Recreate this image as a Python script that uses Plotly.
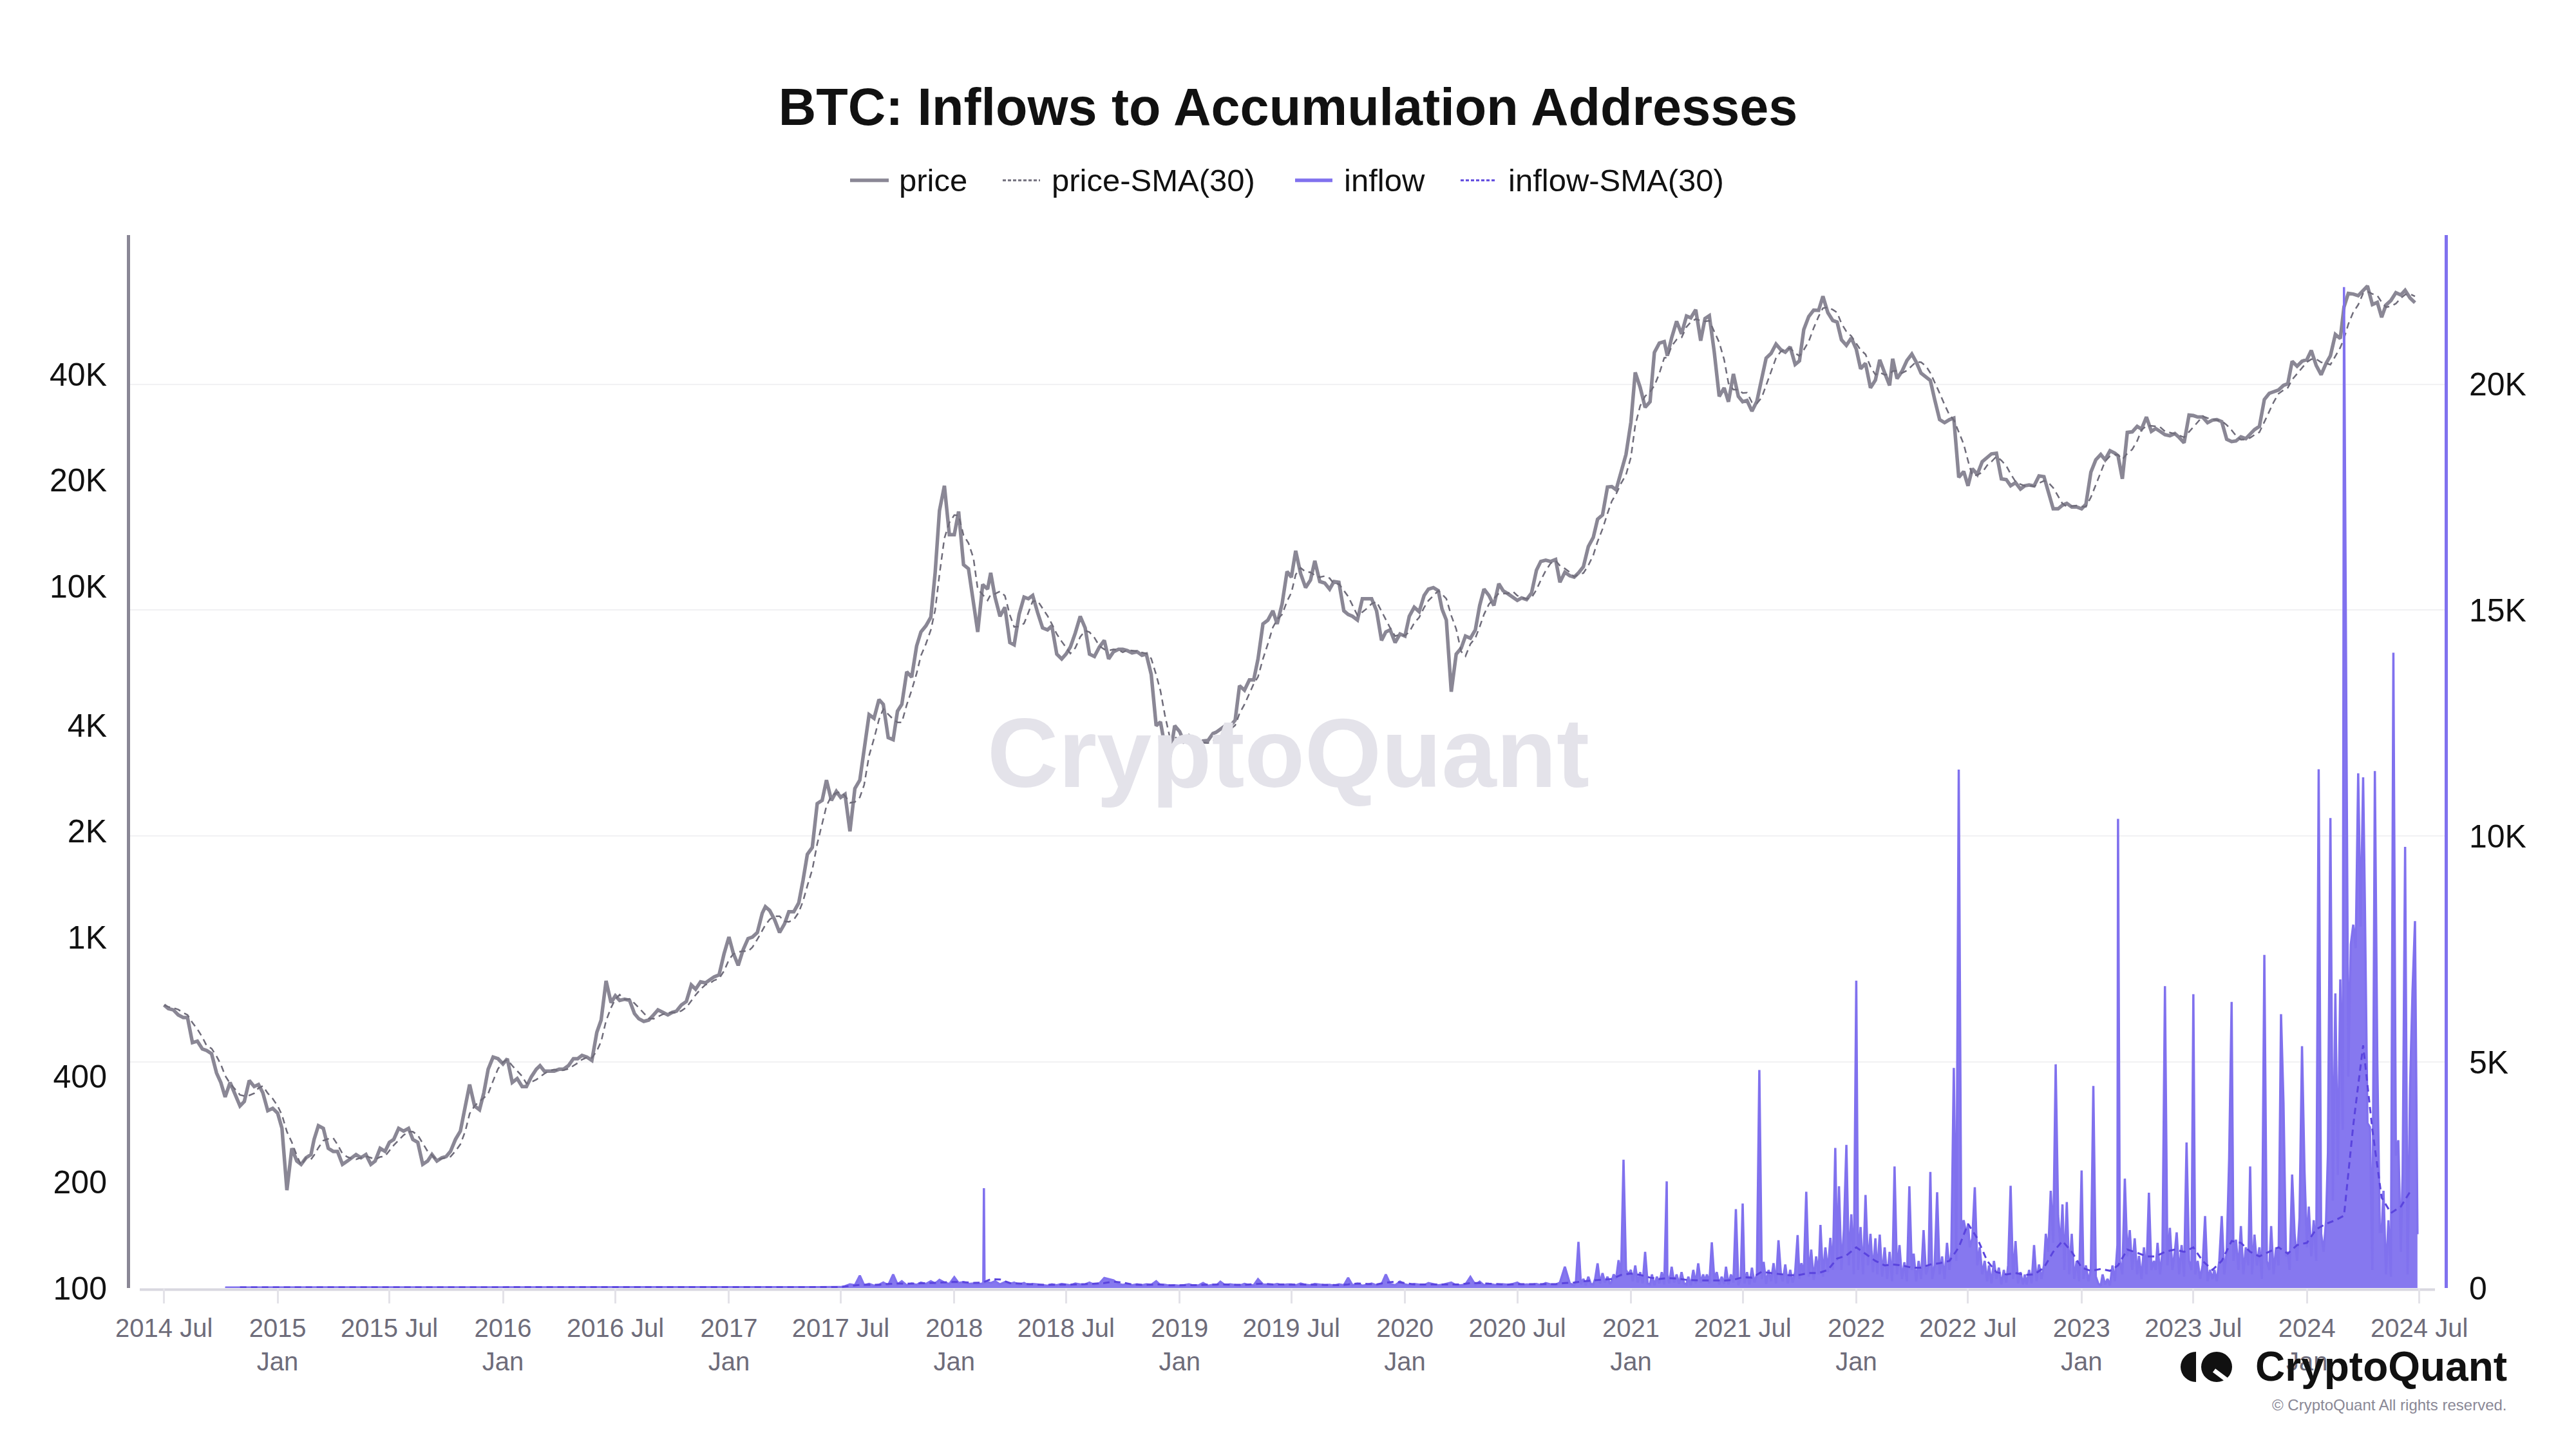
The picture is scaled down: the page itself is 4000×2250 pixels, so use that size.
import pandas as pd
import plotly.graph_objects as go

# ---------------- DATA ----------------
# BTC price, sampled on days 1, 8, 16, 24 of each month (Jul 2014 .. Jun 2024)
price_2014 = [640, 625, 620, 600,  590, 590, 500, 505,  480, 475, 465, 410,
              385, 350, 385, 355,  330, 340, 390, 375,  380, 360, 320, 325]
price_2015 = [315, 285, 190, 250,  230, 225, 235, 240,  265, 290, 285, 250,
              245, 245, 225, 230,  235, 240, 235, 240,  225, 230, 250, 245,
              260, 265, 285, 280,  285, 265, 260, 225,  230, 240, 230, 235,
              237, 245, 265, 280,  330, 380, 330, 322,  360, 420, 455, 450]
price_2016 = [435, 450, 385, 395,  375, 375, 400, 420,  430, 415, 415, 415,
              420, 420, 430, 450,  450, 460, 455, 445,  535, 580, 750, 650,
              680, 660, 665, 660,  605, 585, 575, 580,  600, 620, 610, 600,
              610, 615, 640, 655,  730, 710, 745, 740,  755, 770, 780, 895]
price_2017 = [1000, 900, 830, 920,  990, 1000, 1030, 1170,  1220, 1190, 1120, 1030,
              1090, 1180, 1180, 1250,  1450, 1720, 1800, 2400,  2450, 2800, 2450, 2600,
              2500, 2550, 2000, 2650,  2800, 3400, 4300, 4200,  4750, 4600, 3700, 3650,
              4400, 4600, 5700, 5500,  6750, 7400, 7700, 8150,  10900, 16400, 19300, 14000]
price_2018 = [14000, 16300, 11500, 11200,  9100, 7400, 10100, 9800,  10900, 9300, 8200, 8700,
              6900, 6800, 8300, 9300,  9200, 9400, 8400, 7600,  7500, 7700, 6400, 6200,
              6400, 6700, 7350, 8200,  7600, 6400, 6300, 6700,  7000, 6200, 6500, 6600,
              6600, 6550, 6450, 6500,  6350, 6400, 5600, 4000,  4100, 3500, 3250, 4000]
price_2019 = [3850, 3600, 3650, 3580,  3450, 3620, 3630, 3800,  3830, 3900, 4000, 3990,
              4150, 5200, 5050, 5400,  5400, 6200, 7800, 8000,  8500, 7800, 8900, 11000,
              10600, 12600, 10850, 9900,  10400, 11800, 10300, 10200,  9800, 10300, 10250, 8500,
              8300, 8200, 8000, 9200,  9200, 9200, 8500, 7000,  7400, 7500, 6900, 7300]
price_2020 = [7200, 8200, 8700, 8450,  9400, 9800, 9900, 9700,  8600, 8000, 5000, 6400,
              6650, 7200, 7100, 7500,  8800, 9800, 9400, 8800,  10150, 9700, 9500, 9250,
              9100, 9250, 9150, 9550,  11100, 11750, 11850, 11750,  11900, 10250, 10950, 10700,
              10600, 10900, 11350, 12950,  13750, 15500, 15950, 19150,  19200, 18800, 21300, 23700]
price_2021 = [29300, 40600, 36800, 32300,  33500, 46300, 49200, 49700,  45300, 51000, 56800, 52300,
              58800, 58100, 61300, 50000,  57800, 58900, 46400, 34700,  36700, 33500, 40200, 34700,
              33500, 33800, 31500, 33600,  39100, 44600, 46000, 48900,  47100, 46400, 48000, 42800,
              43800, 53800, 58600, 61100,  61000, 66900, 60100, 57100,  56500, 50300, 48500, 50900]
price_2022 = [47300, 41600, 43100, 36700,  38600, 44100, 40500, 37300,  44400, 39000, 40900, 43900,
              45800, 43500, 40400, 39500,  38500, 34000, 29800, 29200,  29800, 30100, 20400, 21200,
              19300, 21600, 20800, 22600,  23300, 23800, 23900, 20200,  20100, 19300, 19700, 18900,
              19300, 19400, 19300, 20600,  20500, 18500, 16600, 16600,  17000, 17200, 16800, 16800]
price_2023 = [16600, 17100, 21100, 22900,  23700, 22900, 24300, 23900,  23500, 20200, 27400, 27500,
              28500, 28000, 30300, 27600,  28100, 27600, 27000, 26800,  27200, 26500, 25600, 30700,
              30600, 30300, 30300, 29200,  29700, 29800, 29400, 26200,  25800, 25900, 26600, 26300,
              27000, 27900, 28500, 34000,  35400, 35700, 36200, 37300,  37700, 43700, 42300, 43700]
price_2024 = [44200, 46900, 42500, 40000,  43100, 45300, 52100, 50700,  62400, 68200, 67900, 67200,
              69600, 71600, 63400, 64300,  58300, 63200, 65100, 68500,  67500, 69600, 66200, 64200]

# Inflow to accumulation addresses (BTC)
# monthly (day 8) Oct 2014 .. Jun 2017
inflow_2014_2017 = [12, 14, 13, 15, 14, 16, 13, 15, 14, 12, 15, 16, 14, 13, 15,
                    16, 14, 15, 13, 16, 15, 14, 16, 15, 17, 15, 16, 18, 17, 19,
                    18, 20, 22]
# days 1, 8, 16, 24: Jul 2017 .. Sep 2020
inflow_2017 = [20, 40, 80, 60,  275, 60, 90, 50,  70, 120, 60, 300,
               80, 150, 60, 100,  70, 120, 90, 150,  100, 180, 120, 90]
inflow_2018 = [240, 110, 130, 90,  100, 80, 100, 130,  110, 150, 80, 130,
               90, 120, 70, 110,  60, 90, 80, 70,  50, 80, 60, 90,
               70, 60, 100, 80,  80, 120, 70, 100,  220, 200, 170, 90,
               70, 90, 60, 80,  60, 80, 70, 150,  60, 70, 50, 60]
inflow_2019 = [50, 60, 80, 50,  60, 110, 50, 70,  50, 140, 60, 80,
               70, 50, 90, 60,  60, 195, 80, 70,  70, 90, 60, 80,
               80, 60, 100, 70,  60, 90, 70, 60,  70, 50, 80, 60,
               227, 60, 90, 50,  70, 100, 60, 80,  300, 90, 60, 140]
inflow_2020a = [80, 60, 90, 70,  60, 110, 80, 60,  70, 90, 120, 60,
                60, 80, 245, 70,  140, 60, 90, 70,  60, 80, 70, 90,
                120, 60, 80, 70,  90, 60, 110, 80,  70, 120, 470, 100]
# single-day spike of Feb 2018 with the days around it
inflow_spike_dates = ["2018-02-17", "2018-02-18", "2018-02-19"]
inflow_spike_values = [120, 2210, 110]
# days 1, 4, 8, 12, 16, 20, 24, 28: Oct 2020 .. Jun 2024
inflow_2020b = [60, 150, 1020, 80, 200, 60, 250, 90,
                80, 200, 544, 100, 330, 120, 250, 90,
                150, 300, 200, 615, 250, 2840, 400, 300]
inflow_2021 = [400, 150, 500, 120, 350, 100, 800, 100,
               80, 300, 60, 250, 100, 350, 80, 2360,
               300, 100, 470, 120, 300, 90, 350, 100,
               80, 250, 60, 400, 100, 544, 120, 300,
               150, 300, 100, 1010, 200, 350, 80, 250,
               90, 470, 80, 300, 120, 1744, 60, 250,
               1870, 100, 350, 80, 450, 120, 300, 4825,
               200, 577, 90, 400, 150, 550, 100, 1057,
               300, 150, 520, 100, 400, 120, 350, 1170,
               200, 550, 300, 2130, 250, 850, 180, 700,
               300, 1395, 250, 900, 350, 1110, 400, 3100,
               600, 2250, 400, 1300, 3166, 500, 1630, 300]
inflow_2022 = [6800, 400, 1350, 300, 2060, 500, 1200, 350,
               1100, 300, 1180, 250, 900, 200, 800, 150,
               600, 2690, 300, 950, 200, 570, 150, 2250,
               400, 760, 150, 600, 200, 1280, 300, 500,
               2570, 200, 500, 2120, 300, 700, 200, 1000,
               400, 800, 4870, 600, 11470, 1300, 1500, 1200,
               1400, 900, 1100, 2230, 500, 900, 300, 600,
               150, 500, 100, 600, 200, 450, 80, 400,
               120, 500, 2260, 200, 1040, 100, 350, 80,
               300, 80, 400, 100, 950, 150, 520, 200,
               500, 1200, 800, 2150, 1000, 4950, 1600, 900,
               1850, 400, 1900, 300, 1200, 200, 600, 150]
inflow_2023 = [2600, 200, 500, 150, 400, 4470, 250, 100,
               50, 300, 80, 200, 60, 500, 150, 950,
               10380, 600, 300, 2420, 700, 1280, 400, 1100,
               300, 710, 200, 900, 300, 2110, 400, 600,
               400, 1000, 300, 800, 6680, 500, 1330, 400,
               800, 1230, 300, 950, 250, 3220, 600, 400,
               6500, 300, 600, 200, 500, 1590, 150, 400,
               200, 400, 150, 600, 1590, 300, 800, 2870,
               6330, 600, 1070, 400, 1370, 300, 900, 500,
               2690, 300, 1180, 500, 900, 200, 7370, 600,
               400, 1370, 300, 900, 500, 6060, 4100, 700,
               800, 400, 2510, 1200, 600, 1560, 5350, 2600]
inflow_2024 = [900, 1800, 700, 1500, 600, 11480, 1200, 800,
               1500, 3000, 10400, 1930, 6520, 2500, 6830, 3500,
               22150, 14750, 4680, 7600, 8040, 7520, 11390, 8000,
               11300, 8330, 3650, 3560, 400, 11440, 4970, 1240,
               1240, 2150, 300, 1500, 250, 14060, 2930, 3270,
               800, 2530, 9760, 300, 4420, 6570, 8120, 1190]

# inflow-SMA(30): monthly (day 1) Nov 2014 .. Jun 2017
inflow_sma_2014_2017 = [13, 13, 14, 14, 14, 14, 14, 14, 14, 14, 14, 14, 14, 14, 15, 15,
                        15, 15, 15, 15, 15, 15, 15, 15, 15, 15, 16, 16, 17, 17, 18, 19]
# semi-monthly (days 1, 16) Jul 2017 .. Jun 2024
inflow_sma_2017 = [20, 45, 70, 70, 70, 90, 100, 95, 100, 105, 115, 125]
inflow_sma_2018 = [135, 130, 115, 120, 195, 190, 110, 100, 85, 75, 70, 70,
                   75, 78, 85, 95, 110, 140, 120, 80, 70, 75, 80, 60]
inflow_sma_2019 = [60, 60, 65, 75, 80, 80, 70, 70, 85, 95, 80, 75,
                   75, 78, 75, 70, 68, 65, 80, 100, 90, 80, 120, 140]
inflow_sma_2020 = [110, 80, 78, 80, 80, 85, 80, 110, 110, 95, 80, 75,
                   85, 85, 85, 85, 85, 110, 120, 150, 170, 180, 200, 290]
inflow_sma_2021 = [320, 290, 230, 200, 220, 210, 180, 170, 170, 165, 165, 180,
                   240, 230, 360, 330, 300, 280, 290, 330, 330, 400, 650, 720]
inflow_sma_2022 = [900, 750, 600, 500, 520, 500, 450, 450, 520, 550, 600, 900,
                   1420, 1100, 600, 350, 300, 330, 290, 300, 450, 800, 1040, 800]
inflow_sma_2023 = [450, 380, 420, 380, 500, 850, 780, 700, 700, 800, 850, 800,
                   900, 600, 400, 600, 1040, 1000, 800, 700, 800, 900, 760, 950]
inflow_sma_2024 = [1000, 1300, 1420, 1500, 1600, 3600, 5370, 3500, 2000, 1660, 1800, 2130]

# axis tick labels
price_tickvals = [100, 200, 400, 1000, 2000, 4000, 10000, 20000, 40000]
price_ticktext = ["100", "200", "400", "1K", "2K", "4K", "10K", "20K", "40K"]
inflow_tickvals = [0, 5000, 10000, 15000, 20000]
inflow_ticktext = ["0", "5K", "10K", "15K", "20K"]
legend_names = ["price", "price-SMA(30)", "inflow", "inflow-SMA(30)"]


# ---------------- helpers ----------------
def month_grid(y, m, nmonths, days):
    out = []
    for _ in range(nmonths):
        for d in days:
            out.append(pd.Timestamp(y, m, d))
        m += 1
        if m > 12:
            m = 1
            y += 1
    return out


price = (price_2014 + price_2015 + price_2016 + price_2017 + price_2018 + price_2019
         + price_2020 + price_2021 + price_2022 + price_2023 + price_2024)
price_dates = month_grid(2014, 7, 120, [1, 8, 16, 24])
assert len(price) == len(price_dates), (len(price), len(price_dates))
price_s = pd.Series(price, index=pd.DatetimeIndex(price_dates), dtype=float)
price_sma = price_s.rolling("30D", min_periods=1).mean()

inflow_early = inflow_2014_2017
inflow_mid = inflow_2017 + inflow_2018 + inflow_2019 + inflow_2020a
inflow_late = inflow_2020b + inflow_2021 + inflow_2022 + inflow_2023 + inflow_2024
d_early = month_grid(2014, 10, 33, [8])
d_mid = month_grid(2017, 7, 39, [1, 8, 16, 24])
d_late = month_grid(2020, 10, 45, [1, 4, 8, 12, 16, 20, 24, 28])
assert len(inflow_early) == len(d_early), (len(inflow_early), len(d_early))
assert len(inflow_mid) == len(d_mid), (len(inflow_mid), len(d_mid))
assert len(inflow_late) == len(d_late), (len(inflow_late), len(d_late))
inflow_s = pd.Series(inflow_early + inflow_mid + inflow_late + inflow_spike_values,
                     index=pd.DatetimeIndex(d_early + d_mid + d_late
                                            + [pd.Timestamp(d) for d in inflow_spike_dates]),
                     dtype=float).sort_index()

inflow_sma = (inflow_sma_2014_2017 + inflow_sma_2017 + inflow_sma_2018 + inflow_sma_2019
              + inflow_sma_2020 + inflow_sma_2021 + inflow_sma_2022 + inflow_sma_2023
              + inflow_sma_2024)
sma_dates = month_grid(2014, 11, 32, [1]) + month_grid(2017, 7, 84, [1, 16])
assert len(inflow_sma) == len(sma_dates), (len(inflow_sma), len(sma_dates))

# ---------------- layout geometry (absolute page pixels, page body has 8px margin) ----------------
OFF = 8
W, H = 4000 - 2 * OFF, 2230
PL, PR, PT, PB = 202, 3796, 365, 2000          # plot area on the page
ML, MT = PL - OFF, PT - OFF
MR, MB = W - (PR - OFF), H - (PB - OFF)
PW, PH = PR - PL, PB - PT
FONT = "Liberation Sans, Arial, sans-serif"
GREY = "#8a8795"
PURPLE = "#8071ee"
SMA_GREY = "#6f6c7a"
SMA_PURPLE = "#5a44de"


def px(X):
    return (X - PL) / PW


def py(Y):
    return (PB - Y) / PH


fig = go.Figure()
fig.add_trace(go.Scatter(x=price_s.index, y=price_s.values, name=legend_names[0], mode="lines",
                         line=dict(color=GREY, width=5.5), yaxis="y", showlegend=False))
fig.add_trace(go.Scatter(x=price_sma.index, y=price_sma.values, name=legend_names[1], mode="lines",
                         line=dict(color=SMA_GREY, width=2.5, dash="10px,7px"), yaxis="y",
                         showlegend=False))
fig.add_trace(go.Scatter(x=inflow_s.index, y=inflow_s.values, name=legend_names[2], mode="lines",
                         line=dict(color=PURPLE, width=3.5), fill="tozeroy",
                         fillcolor="rgba(128,113,238,0.95)", yaxis="y2", showlegend=False))
fig.add_trace(go.Scatter(x=sma_dates, y=inflow_sma, name=legend_names[3], mode="lines",
                         line=dict(color=SMA_PURPLE, width=3, dash="10px,7px"), yaxis="y2",
                         showlegend=False))

tickvals = []
ticktext = []
for yr in range(2014, 2025):
    if yr > 2014:
        tickvals.append(pd.Timestamp(yr, 1, 1))
        ticktext.append(f"{yr}<br>Jan")
    tickvals.append(pd.Timestamp(yr, 7, 1))
    ticktext.append(f"{yr} Jul")

fig.update_layout(
    width=W, height=H,
    margin=dict(l=ML, r=MR, t=MT, b=MB, pad=0),
    paper_bgcolor="white", plot_bgcolor="white",
    font=dict(family=FONT, color="#111111"),
    title=dict(text="BTC: Inflows to Accumulation Addresses", x=0.5, xanchor="center",
               y=1 - (166 - OFF) / H, yanchor="middle",
               font=dict(size=81, family=FONT, color="#111111", weight=700)),
    showlegend=False,
    xaxis=dict(type="date", range=["2014-05-07", "2024-08-11"], showgrid=False,
               showline=False, zeroline=False, tickmode="array", tickvals=tickvals,
               ticktext=ticktext, ticks="outside", ticklen=23, tickwidth=3,
               tickcolor="#e3e2e8", tickfont=dict(size=40, color="#6e6c7a", family=FONT),
               ticklabelstandoff=4),
    yaxis=dict(type="log", range=[2, 5], showgrid=False, zeroline=False,
               showline=True, linecolor=GREY, linewidth=5, side="left",
               tickmode="array", tickvals=price_tickvals, ticktext=price_ticktext,
               ticks="", tickfont=dict(size=50, color="#111111", family=FONT),
               ticklabelstandoff=21),
    yaxis2=dict(overlaying="y", side="right", range=[0, 23300], showgrid=True,
                gridcolor="#f1f1f3", gridwidth=2, zeroline=False,
                showline=True, linecolor=PURPLE, linewidth=5,
                tickmode="array", tickvals=inflow_tickvals, ticktext=inflow_ticktext,
                ticks="", tickfont=dict(size=50, color="#111111", family=FONT),
                ticklabelstandoff=23),
)

# x baseline
fig.add_shape(type="line", xref="paper", yref="paper", x0=px(217), x1=px(3781),
              y0=py(2002.5), y1=py(2002.5), line=dict(color="#d9d8e0", width=4), layer="below")

# legend (drawn by hand to match symbol lengths and spacing)
legend_y = py(280)
legend_items = [
    (1320, 1380, 1394, GREY, 5.5, "solid"),
    (1557, 1615, 1631, SMA_GREY, 3, "5px,3px"),
    (2011, 2069, 2085, PURPLE, 5.5, "solid"),
    (2268, 2324, 2340, SMA_PURPLE, 3, "5px,3px"),
]
for name, (x0, x1, xt, col, wd, dash) in zip(legend_names, legend_items):
    fig.add_shape(type="line", xref="paper", yref="paper", x0=px(x0), x1=px(x1),
                  y0=legend_y, y1=legend_y, line=dict(color=col, width=wd, dash=dash))
    fig.add_annotation(text=name, xref="paper", yref="paper", x=px(xt), y=legend_y,
                       xanchor="left", yanchor="middle", showarrow=False,
                       font=dict(size=49, color="#111111", family=FONT))

# watermark
fig.add_annotation(text="CryptoQuant", xref="paper", yref="paper", x=px(2000), y=py(1168),
                   xanchor="center", yanchor="middle", showarrow=False,
                   font=dict(size=153, color="#e4e3ea", family=FONT, weight=700))

# logo
fig.add_shape(type="circle", xref="paper", yref="paper", x0=px(3386), x1=px(3434),
              y0=py(2146), y1=py(2099), fillcolor="#111111", line=dict(width=0))
fig.add_shape(type="rect", xref="paper", yref="paper", x0=px(3410), x1=px(3440),
              y0=py(2150), y1=py(2095), fillcolor="white", line=dict(width=0))
fig.add_shape(type="circle", xref="paper", yref="paper", x0=px(3418), x1=px(3466),
              y0=py(2146), y1=py(2099), fillcolor="#111111", line=dict(width=0))
fig.add_shape(type="line", xref="paper", yref="paper", x0=px(3438), x1=px(3462),
              y0=py(2128), y1=py(2146), line=dict(color="white", width=7))
fig.add_annotation(text="CryptoQuant", xref="paper", yref="paper", x=px(3895), y=py(2122),
                   xanchor="right", yanchor="middle", showarrow=False,
                   font=dict(size=64, color="#111111", family=FONT, weight=700))
fig.add_annotation(text="© CryptoQuant All rights reserved.", xref="paper", yref="paper",
                   x=px(3895), y=py(2181), xanchor="right", yanchor="middle", showarrow=False,
                   font=dict(size=24, color="#8a8896", family=FONT))

fig.write_html("out.html")
